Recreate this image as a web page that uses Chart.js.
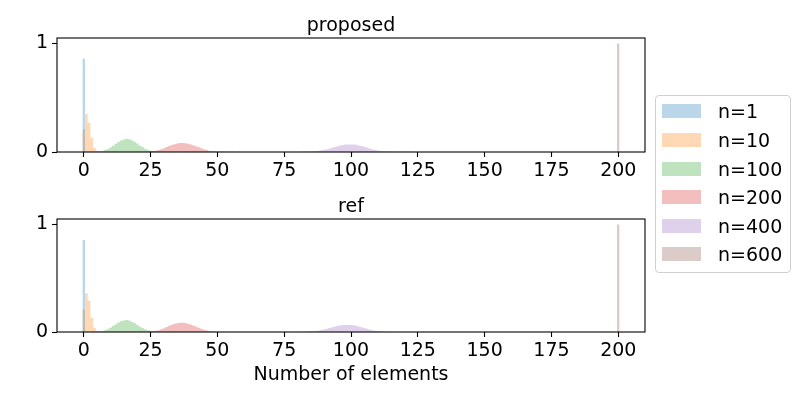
<!DOCTYPE html>
<html>
<head>
<meta charset="utf-8">
<script src="https://cdn.jsdelivr.net/npm/chart.js@4.4.0/dist/chart.umd.min.js"></script>
<style>
html,body{margin:0;padding:0;background:#fff;}
#wrap{position:relative;width:800px;height:400px;overflow:hidden;font-family:"DejaVu Sans",sans-serif;}
#c1{position:absolute;left:0;top:0;}
#c2{position:absolute;left:0;top:181px;}
#legend{position:absolute;left:655px;top:95px;width:134px;height:176px;border:1px solid #d0d0d0;border-radius:4px;background:rgba(255,255,255,0.8);}
.row{position:absolute;left:0;width:134px;height:14px;}
.sw{position:absolute;left:6px;top:0;width:39px;height:14px;}
.lab{position:absolute;left:62px;top:-4px;font-size:19px;line-height:22px;color:#000;white-space:nowrap;}
</style>
</head>
<body>
<div id="wrap">
  <canvas id="c1" width="800" height="190"></canvas>
  <canvas id="c2" width="800" height="219"></canvas>
  <div id="legend"></div>
</div>
<script>
// ---- data ----
const seriesNames = ['n=1', 'n=10', 'n=100', 'n=200', 'n=400', 'n=600'];
const xTicks = [0, 25, 50, 75, 100, 125, 150, 175, 200];
const yTicks = [0, 1];

// "proposed" panel: centre of first bin and bin heights (bin width 1)
const propStart = [0, 0, 3, 23, 81, 200];
const propN1 = [0.86];
const propN10 = [0.21, 0.35, 0.27, 0.13, 0.04, 0.01];
const propN100 = [0.002, 0.003, 0.004, 0.006, 0.01, 0.018, 0.028, 0.042, 0.058, 0.075, 0.092, 0.106, 0.116, 0.121, 0.118, 0.108, 0.094, 0.078, 0.061, 0.045, 0.031, 0.02, 0.012, 0.007, 0.004, 0.003, 0.002];
const propN200 = [0.002, 0.003, 0.005, 0.008, 0.012, 0.018, 0.026, 0.035, 0.045, 0.055, 0.064, 0.072, 0.078, 0.082, 0.083, 0.081, 0.077, 0.07, 0.062, 0.053, 0.043, 0.034, 0.025, 0.018, 0.012, 0.008, 0.006, 0.005, 0.004, 0.004, 0.003, 0.003, 0.002, 0.002, 0, 0.002];
const propN400 = [0.002, 0.003, 0.003, 0.004, 0.005, 0.006, 0.008, 0.011, 0.015, 0.02, 0.026, 0.033, 0.04, 0.047, 0.054, 0.06, 0.065, 0.068, 0.07, 0.07, 0.069, 0.066, 0.061, 0.055, 0.048, 0.041, 0.033, 0.026, 0.019, 0.014, 0.01, 0.007, 0.005, 0.004, 0.004, 0.003, 0.003, 0.003, 0.002, 0.002, 0.002, 0.002, 0.002, 0.001];
const propN600 = [1.0];

// "ref" panel
const refStart = [0, 0, 3, 23, 81, 200];
const refN1 = [0.855];
const refN10 = [0.21, 0.36, 0.29, 0.13, 0.04, 0.01];
const refN100 = [0.001, 0.002, 0.003, 0.005, 0.009, 0.016, 0.026, 0.04, 0.055, 0.072, 0.088, 0.1, 0.108, 0.111, 0.106, 0.096, 0.083, 0.068, 0.052, 0.038, 0.026, 0.017, 0.01, 0.006, 0.003, 0.002, 0.001];
const refN200 = [0.001, 0.002, 0.004, 0.007, 0.011, 0.017, 0.025, 0.035, 0.046, 0.057, 0.067, 0.076, 0.082, 0.086, 0.086, 0.083, 0.077, 0.069, 0.06, 0.05, 0.04, 0.03, 0.022, 0.015, 0.01, 0.006, 0.004, 0.003, 0.002, 0.001];
const refN400 = [0.001, 0.002, 0.003, 0.004, 0.005, 0.007, 0.01, 0.014, 0.019, 0.025, 0.031, 0.038, 0.045, 0.052, 0.057, 0.061, 0.064, 0.066, 0.066, 0.065, 0.062, 0.057, 0.051, 0.044, 0.037, 0.03, 0.023, 0.017, 0.012, 0.009, 0.006, 0.004, 0.003, 0.002, 0.002, 0.001];
const refN600 = [1.0];

// ---- style ----
const colors = [
  'rgba(31,119,180,0.3)', 'rgba(255,127,14,0.3)', 'rgba(44,160,44,0.3)',
  'rgba(214,39,40,0.3)', 'rgba(148,103,189,0.3)', 'rgba(140,86,75,0.3)'
];
const FONT = 'DejaVu Sans';
const FS = 19;
const BIN_W = 1;

// histogram outline: left edge of each bin, then the right edge of the last bin back at 0
function toSteps(start, vals) {
  const pts = vals.map((v, i) => ({ x: start + i * BIN_W - BIN_W / 2, y: v }));
  pts.push({ x: start + vals.length * BIN_W - BIN_W / 2, y: 0 });
  return pts;
}
function buildDatasets(starts, series) {
  return series.map((vals, k) => ({
    label: seriesNames[k],
    data: toSteps(starts[k], vals),
    backgroundColor: colors[k],
    borderColor: colors[k],
    borderWidth: 0,
    pointRadius: 0,
    stepped: 'before',
    fill: 'origin',
    tension: 0
  }));
}

const framePlugin = {
  id: 'frame',
  afterDatasetsDraw(chart) {
    const { ctx, chartArea: a } = chart;
    ctx.save();
    ctx.strokeStyle = '#000';
    ctx.lineWidth = 1.1;
    ctx.strokeRect(a.left, a.top, a.right - a.left, a.bottom - a.top);
    ctx.restore();
  }
};

function makeChart(id, titleText, datasets, xAxisHeight, showXTitle) {
  const tickGrid = {
    display: true, drawOnChartArea: false, drawTicks: true, offset: false,
    tickLength: 5, tickColor: '#000', tickWidth: 1.1
  };
  return new Chart(document.getElementById(id), {
    type: 'line',
    data: { datasets },
    options: {
      responsive: false,
      animation: false,
      events: [],
      layout: { padding: { left: 0, right: 155, top: 0, bottom: 0 } },
      plugins: {
        legend: { display: false },
        tooltip: { enabled: false },
        title: {
          display: true, text: titleText, color: '#000', fullSize: false,
          font: { family: FONT, size: FS, weight: 'normal' },
          padding: { top: 15, bottom: 0.2 }
        }
      },
      scales: {
        x: {
          type: 'linear', min: -10, max: 210, offset: false,
          afterBuildTicks: s => { s.ticks = xTicks.map(v => ({ value: v })); },
          afterFit: s => { s.height = xAxisHeight; },
          grid: tickGrid,
          border: { display: false },
          ticks: { color: '#000', font: { family: FONT, size: FS }, padding: 3, maxRotation: 0, autoSkip: false },
          title: {
            display: showXTitle, text: 'Number of elements', color: '#000',
            font: { family: FONT, size: FS }, padding: { top: 0, bottom: 13.6 }
          }
        },
        y: {
          type: 'linear', min: 0, max: 1.05,
          afterBuildTicks: s => { s.ticks = yTicks.map(v => ({ value: v })); },
          afterFit: s => { s.width = 57; },
          grid: tickGrid,
          border: { display: false },
          ticks: { color: '#000', font: { family: FONT, size: FS }, padding: 4 }
        }
      }
    },
    plugins: [framePlugin]
  });
}

makeChart('c1', 'proposed',
  buildDatasets(propStart, [propN1, propN10, propN100, propN200, propN400, propN600]), 38, false);
makeChart('c2', 'ref',
  buildDatasets(refStart, [refN1, refN10, refN100, refN200, refN400, refN600]), 68, true);

// legend
const leg = document.getElementById('legend');
const rowTops = [8, 37, 66, 94, 123, 151];
seriesNames.forEach((name, k) => {
  const r = document.createElement('div');
  r.className = 'row';
  r.style.top = rowTops[k] + 'px';
  r.innerHTML = '<div class="sw" style="background:' + colors[k] + '"></div><div class="lab">' + name + '</div>';
  leg.appendChild(r);
});
</script>
</body>
</html>
